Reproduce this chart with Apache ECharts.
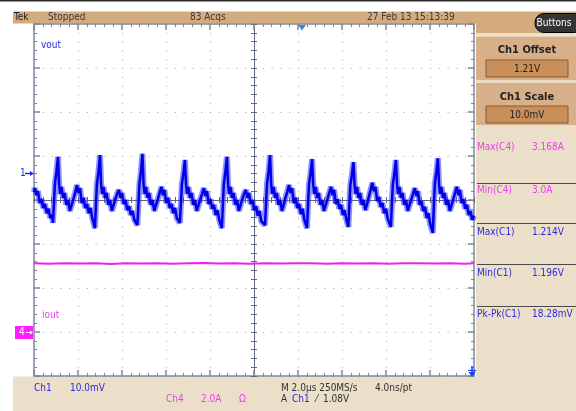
<!DOCTYPE html>
<html><head><meta charset="utf-8">
<script src="https://cdn.jsdelivr.net/npm/echarts@6/dist/echarts.min.js"></script>
<style>html,body{margin:0;padding:0;background:#fff}#c{width:576px;height:411px}</style>
</head><body><div id="c"></div>
<script>
// Time (µs, relative to screen centre) for the Ch1 (vout) record
const voutTime = [
-10.00,-9.96,-9.89,-9.82,-9.74,-9.66,-9.58,-9.50,-9.42,-9.34,-9.26,-9.18,
-9.14,-9.09,-9.05,-8.98,-8.91,-8.86,-8.81,-8.75,-8.68,-8.61,-8.53,-8.45,-8.37,-8.29,-8.21,-8.13,-8.05,-7.98,-7.91,-7.83,-7.75,-7.67,-7.59,-7.51,-7.43,-7.35,
-7.23,-7.18,-7.14,-7.07,-7.00,-6.95,-6.90,-6.84,-6.77,-6.70,-6.62,-6.54,-6.46,-6.38,-6.30,-6.22,-6.14,-6.07,-6.00,-5.92,-5.84,-5.76,-5.68,-5.60,-5.52,-5.44,
-5.30,-5.25,-5.21,-5.14,-5.07,-5.02,-4.97,-4.91,-4.84,-4.77,-4.69,-4.61,-4.53,-4.45,-4.37,-4.29,-4.21,-4.14,-4.07,-3.99,-3.91,-3.83,-3.75,-3.67,-3.59,-3.51,
-3.37,-3.32,-3.28,-3.21,-3.14,-3.09,-3.04,-2.98,-2.91,-2.84,-2.76,-2.68,-2.60,-2.52,-2.44,-2.36,-2.28,-2.21,-2.14,-2.06,-1.98,-1.90,-1.82,-1.74,-1.66,-1.58,
-1.46,-1.41,-1.37,-1.30,-1.23,-1.18,-1.13,-1.07,-1.00,-0.93,-0.85,-0.77,-0.69,-0.61,-0.53,-0.45,-0.37,-0.30,-0.23,-0.15,-0.07,0.01,0.09,0.17,0.25,0.33,
0.50,0.55,0.59,0.66,0.73,0.78,0.83,0.89,0.96,1.03,1.11,1.19,1.27,1.35,1.43,1.51,1.59,1.66,1.73,1.81,1.89,1.97,2.05,2.13,2.21,2.29,
2.41,2.46,2.50,2.57,2.64,2.69,2.74,2.80,2.87,2.94,3.02,3.10,3.18,3.26,3.34,3.42,3.50,3.57,3.64,3.72,3.80,3.88,3.96,4.04,4.12,4.20,
4.29,4.34,4.38,4.45,4.52,4.57,4.62,4.68,4.75,4.82,4.90,4.98,5.06,5.14,5.22,5.30,5.38,5.45,5.52,5.60,5.68,5.76,5.84,5.92,6.00,6.08,
6.22,6.27,6.31,6.38,6.45,6.50,6.55,6.61,6.68,6.75,6.83,6.91,6.99,7.07,7.15,7.23,7.31,7.38,7.45,7.53,7.61,7.69,7.77,7.85,7.93,8.01,
8.13,8.18,8.22,8.29,8.36,8.41,8.46,8.52,8.59,8.66,8.74,8.82,8.90,8.98,9.06,9.14,9.22,9.29,9.36,9.44,9.52,9.60,9.68,9.76,9.84,9.92,10.00
];
// Ch1 vout (V)
const voutVolts = [
1.2058,1.2067,1.2051,1.2060,1.2033,1.2042,1.2022,1.2031,1.2010,1.2020,1.1999,1.2006,
1.1988,1.2035,1.2076,1.2104,1.2138,1.2076,1.2054,1.2070,1.2045,1.2056,1.2029,1.2040,1.2015,1.2029,1.2042,1.2056,1.2074,1.2056,1.2067,1.2033,1.2045,1.2022,1.2031,1.2010,1.2022,1.1999,
1.1976,1.2035,1.2076,1.2104,1.2142,1.2076,1.2054,1.2070,1.2045,1.2056,1.2029,1.2040,1.2015,1.2029,1.2042,1.2054,1.2063,1.2045,1.2056,1.2031,1.2040,1.2017,1.2026,1.2006,1.2015,1.1995,
1.1983,1.2035,1.2076,1.2104,1.2145,1.2076,1.2054,1.2070,1.2045,1.2056,1.2029,1.2040,1.2015,1.2029,1.2042,1.2056,1.2070,1.2051,1.2063,1.2033,1.2045,1.2022,1.2031,1.2010,1.2022,1.1999,
1.1988,1.2035,1.2076,1.2099,1.2131,1.2076,1.2054,1.2070,1.2045,1.2056,1.2029,1.2040,1.2015,1.2029,1.2042,1.2054,1.2067,1.2049,1.2060,1.2031,1.2042,1.2020,1.2029,1.2006,1.2017,1.1995,
1.1976,1.2035,1.2076,1.2104,1.2138,1.2076,1.2054,1.2070,1.2045,1.2056,1.2029,1.2040,1.2015,1.2029,1.2042,1.2054,1.2063,1.2045,1.2056,1.2031,1.2040,1.2017,1.2026,1.2004,1.2015,1.1992,
1.1983,1.2035,1.2076,1.2104,1.2142,1.2076,1.2054,1.2070,1.2045,1.2056,1.2029,1.2040,1.2015,1.2029,1.2045,1.2058,1.2074,1.2056,1.2067,1.2033,1.2045,1.2022,1.2031,1.2008,1.2020,1.1995,
1.1976,1.2035,1.2076,1.2101,1.2133,1.2076,1.2054,1.2070,1.2045,1.2056,1.2029,1.2040,1.2015,1.2029,1.2042,1.2056,1.2070,1.2051,1.2063,1.2031,1.2042,1.2020,1.2029,1.2006,1.2017,1.1995,
1.1979,1.2035,1.2074,1.2097,1.2126,1.2076,1.2054,1.2070,1.2045,1.2056,1.2029,1.2040,1.2017,1.2031,1.2047,1.2063,1.2079,1.2060,1.2070,1.2038,1.2047,1.2024,1.2033,1.2010,1.2020,1.1997,
1.1979,1.2035,1.2076,1.2099,1.2131,1.2076,1.2054,1.2070,1.2045,1.2056,1.2029,1.2040,1.2015,1.2029,1.2042,1.2054,1.2067,1.2049,1.2060,1.2029,1.2038,1.2015,1.2024,1.1999,1.2010,1.1985,
1.1965,1.2035,1.2076,1.2104,1.2135,1.2076,1.2054,1.2070,1.2045,1.2056,1.2029,1.2040,1.2015,1.2029,1.2042,1.2056,1.2070,1.2051,1.2063,1.2033,1.2042,1.2020,1.2029,1.2006,1.2015,1.1995,1.2004
];
// Ch4 iout record
const ioutTime = [-10.0,-9.3,-8.6,-7.9,-7.2,-6.5,-5.8,-5.1,-4.4,-3.7,-3.0,-2.3,-1.6,-0.9,-0.2,0.5,1.2,1.9,2.6,3.3,4.0,4.7,5.4,6.1,6.8,7.5,8.2,8.9,9.6,10.0];
const ioutAmps = [3.12,3.10,3.13,3.11,3.12,3.09,3.13,3.11,3.12,3.10,3.12,3.14,3.11,3.12,3.10,3.13,3.11,3.12,3.12,3.10,3.13,3.11,3.12,3.10,3.13,3.12,3.11,3.12,3.10,3.12];

// Screen set-up (divisions)
const timeRange = [-10, 10];      // 10 div x 2.0 µs
const divRange = [-4, 4];         // 8 vertical divisions
const ch1Range = [1.164, 1.244];  // 10.0 mV/div
const ch4Range = [-2, 14];        // 2.0 A/div

// Readouts
const headerTexts = ['Tek', 'Stopped', '83 Acqs', '27 Feb 13 15:13:39'];
const measLabels = ['Max(C4)', 'Min(C4)', 'Max(C1)', 'Min(C1)', 'Pk-Pk(C1)'];
const measValues = ['3.168A', '3.0A', '1.214V', '1.196V', '18.28mV'];

const FF = "'Liberation Sans Narrow','DejaVu Sans Condensed','Liberation Sans',Arial,sans-serif";
const BLUE = '#2a2ae6', MAG = '#f03cf0', FRAME = '#7d879c', CROSS = '#5e687e';
const G = {left: 34, top: 24, width: 440, height: 352};

function frameAxis(gi, pos, isX) {
  return {
    type: 'value', gridIndex: gi, position: pos,
    min: isX ? timeRange[0] : divRange[0], max: isX ? timeRange[1] : divRange[1], interval: isX ? 2 : 1,
    axisLine: {show: true, onZero: false, lineStyle: {color: FRAME, width: 1.5}},
    axisTick: {show: true, inside: true, length: 6, lineStyle: {color: FRAME, width: 1.5}},
    minorTick: {show: true, splitNumber: 5, length: 3, lineStyle: {color: FRAME, width: 1}},
    axisLabel: {show: false}, splitLine: {show: false}
  };
}
function crossAxis(gi, pos, isX, split) {
  return {
    type: 'value', gridIndex: gi, position: pos,
    min: isX ? timeRange[0] : divRange[0], max: isX ? timeRange[1] : divRange[1], interval: isX ? 2 : 1,
    axisLine: {show: true, onZero: true, lineStyle: {color: CROSS, width: 1}},
    axisTick: {show: true, inside: true, length: 3, lineStyle: {color: CROSS, width: 1}},
    minorTick: {show: true, splitNumber: 5, length: 3, lineStyle: {color: CROSS, width: 1}},
    axisLabel: {show: false},
    splitLine: {show: split, lineStyle: {color: '#9ea4b0', width: 1, type: [1, 7.8]}}
  };
}

const txt = (text, x, y, fill, size, extra) => Object.assign({
  type: 'text', x: x, y: y, z: 60, silent: true,
  style: {text: text, fill: fill, font: (size || 10) + 'px ' + FF, align: 'left', verticalAlign: 'middle'}
}, extra || {});
const rect = (x, y, w, h, fill, extra) => Object.assign({
  type: 'rect', z: -5, silent: true, shape: {x: x, y: y, width: w, height: h}, style: {fill: fill}
}, extra || {});

const measY = [147, 190, 232, 273, 314];
const sepY = [183, 223, 264, 306];
const elements = [
  rect(0, 0, 576, 1.5, '#2a2a2a'),
  rect(13, 11.5, 463, 12, '#d4aa7f'),
  rect(476, 11.5, 100, 22, '#d4aa7f'),
  rect(476, 33.5, 100, 3, '#f1e2cc'),
  rect(476, 36.5, 100, 44, '#d7b089'),
  rect(476, 80.5, 100, 2.5, '#ecdcc4'),
  rect(476, 83, 100, 42, '#d7b089'),
  rect(476, 125, 100, 286, '#ecdfca'),
  rect(13, 376.5, 463, 35, '#ecdfca'),
  rect(486, 60, 82, 17, '#c98f5b', {z: 20, style: {fill: '#c98f5b', stroke: '#8b5a2e', lineWidth: 1}}),
  rect(486, 106, 82, 17, '#c98f5b', {z: 20, style: {fill: '#c98f5b', stroke: '#8b5a2e', lineWidth: 1}}),
  rect(535, 13.5, 48, 19, '#333', {z: 20, shape: {x: 535, y: 13.5, width: 48, height: 19, r: 9}, style: {fill: '#343434', stroke: '#000', lineWidth: 1}}),
  txt('Buttons', 554, 23, '#ffffff', 10, {style: {text: 'Buttons', fill: '#fff', font: '10px ' + FF, align: 'center', verticalAlign: 'middle'}}),
  txt('Ch1 Offset', 527, 50, '#222', 11, {style: {text: 'Ch1 Offset', fill: '#222', font: 'bold 11px ' + FF, align: 'center', verticalAlign: 'middle'}}),
  txt('1.21V', 527, 69, '#222', 10, {style: {text: '1.21V', fill: '#222', font: '10px ' + FF, align: 'center', verticalAlign: 'middle'}}),
  txt('Ch1 Scale', 527, 97, '#222', 11, {style: {text: 'Ch1 Scale', fill: '#222', font: 'bold 11px ' + FF, align: 'center', verticalAlign: 'middle'}}),
  txt('10.0mV', 527, 115, '#222', 10, {style: {text: '10.0mV', fill: '#222', font: '10px ' + FF, align: 'center', verticalAlign: 'middle'}}),
  txt(headerTexts[0], 14, 17.5, '#1e1e1e', 10),
  txt(headerTexts[1], 48, 17.5, '#3a3a3a', 10),
  txt(headerTexts[2], 190, 17.5, '#3a3a3a', 10),
  txt(headerTexts[3], 367, 17.5, '#3a3a3a', 10),
  txt('Ch1', 34, 388, BLUE, 10), txt('10.0mV', 70, 388, BLUE, 10),
  txt('Ch4', 166, 399, MAG, 10), txt('2.0A', 201, 399, MAG, 10), txt('Ω', 239, 399, MAG, 10),
  txt('M 2.0µs 250MS/s', 281, 388, '#333', 10), txt('4.0ns/pt', 375, 388, '#333', 10),
  txt('A', 281, 399, '#333', 10), txt('Ch1', 292, 399, BLUE, 10), txt('⁄', 316, 399, '#333', 10), txt('1.08V', 323, 399, '#333', 10),
  txt('vout', 41, 45.5, BLUE, 10), txt('iout', 42, 315, MAG, 10),
  txt('1', 20, 173.5, BLUE, 10),
  {type: 'polyline', z: 60, silent: true, shape: {points: [[25, 173.5], [31, 173.5]]}, style: {stroke: BLUE, lineWidth: 1.5}},
  {type: 'polygon', z: 60, silent: true, shape: {points: [[30, 171], [34, 173.5], [30, 176]]}, style: {fill: BLUE}},
  rect(15, 326, 18, 13, '#ff1cff', {z: 55}),
  txt('4', 19, 332.5, '#fff', 10),
  {type: 'polyline', z: 60, silent: true, shape: {points: [[26, 332.5], [31, 332.5]]}, style: {stroke: '#fff', lineWidth: 1}},
  {type: 'polygon', z: 60, silent: true, shape: {points: [[30, 330.5], [33, 332.5], [30, 334.5]]}, style: {fill: '#fff'}},
  {type: 'polygon', z: 60, silent: true, shape: {points: [[298, 25], [306, 25], [302, 30.5]]}, style: {fill: '#3a86e8'}},
  {type: 'polyline', z: 60, silent: true, shape: {points: [[472, 366], [472, 374]]}, style: {stroke: '#1a3cff', lineWidth: 1.5}},
  {type: 'polyline', z: 60, silent: true, shape: {points: [[468, 370.5], [476, 370.5]]}, style: {stroke: '#1a3cff', lineWidth: 1.2}},
  {type: 'polygon', z: 60, silent: true, shape: {points: [[468.5, 372], [475.5, 372], [472, 377]]}, style: {fill: '#1a3cff'}}
];
measLabels.forEach((l, i) => {
  const c = i < 2 ? MAG : BLUE;
  elements.push(txt(l, 477, measY[i], c, 10));
  elements.push(txt(measValues[i], 532, measY[i], c, 10));
});
sepY.forEach(y => elements.push({type: 'polyline', z: 20, silent: true, shape: {points: [[477, y + 0.5], [576, y + 0.5]]}, style: {stroke: '#4a4a4a', lineWidth: 1}}));

const n = Math.min(voutTime.length, voutVolts.length);
const voutData = voutTime.slice(0, n).map((t, i) => [t, voutVolts[i]]);
const ioutData = ioutTime.map((t, i) => [t, ioutAmps[i]]);

const option = {
  animation: false,
  backgroundColor: '#ffffff',
  grid: [Object.assign({}, G), Object.assign({}, G), Object.assign({}, G)],
  xAxis: [
    crossAxis(0, 'bottom', true, true),
    crossAxis(0, 'top', true, false),
    frameAxis(1, 'top', true),
    frameAxis(1, 'bottom', true),
    {type: 'value', gridIndex: 2, min: timeRange[0], max: timeRange[1], show: false}
  ],
  yAxis: [
    crossAxis(0, 'left', false, true),
    crossAxis(0, 'right', false, false),
    frameAxis(1, 'left', false),
    frameAxis(1, 'right', false),
    {type: 'value', gridIndex: 2, min: ch1Range[0], max: ch1Range[1], show: false, position: 'left'},
    {type: 'value', gridIndex: 2, min: ch4Range[0], max: ch4Range[1], show: false, position: 'right'}
  ],
  series: [
    {name: 'iout', type: 'line', xAxisIndex: 4, yAxisIndex: 5, data: ioutData, showSymbol: false, z: 5,
     lineStyle: {color: '#ee22ee', width: 2}},
    {name: 'vout halo', type: 'line', xAxisIndex: 4, yAxisIndex: 4, data: voutData, showSymbol: false, z: 6,
     lineStyle: {color: '#3a3aff', width: 6, opacity: 0.55}},
    {name: 'vout', type: 'line', xAxisIndex: 4, yAxisIndex: 4, data: voutData, showSymbol: false, z: 7,
     lineStyle: {color: '#0000e6', width: 2.5}}
  ],
  graphic: {elements: elements}
};
const chart = echarts.init(document.getElementById('c'), null, {renderer: 'canvas'});
chart.setOption(option);
</script></body></html>
